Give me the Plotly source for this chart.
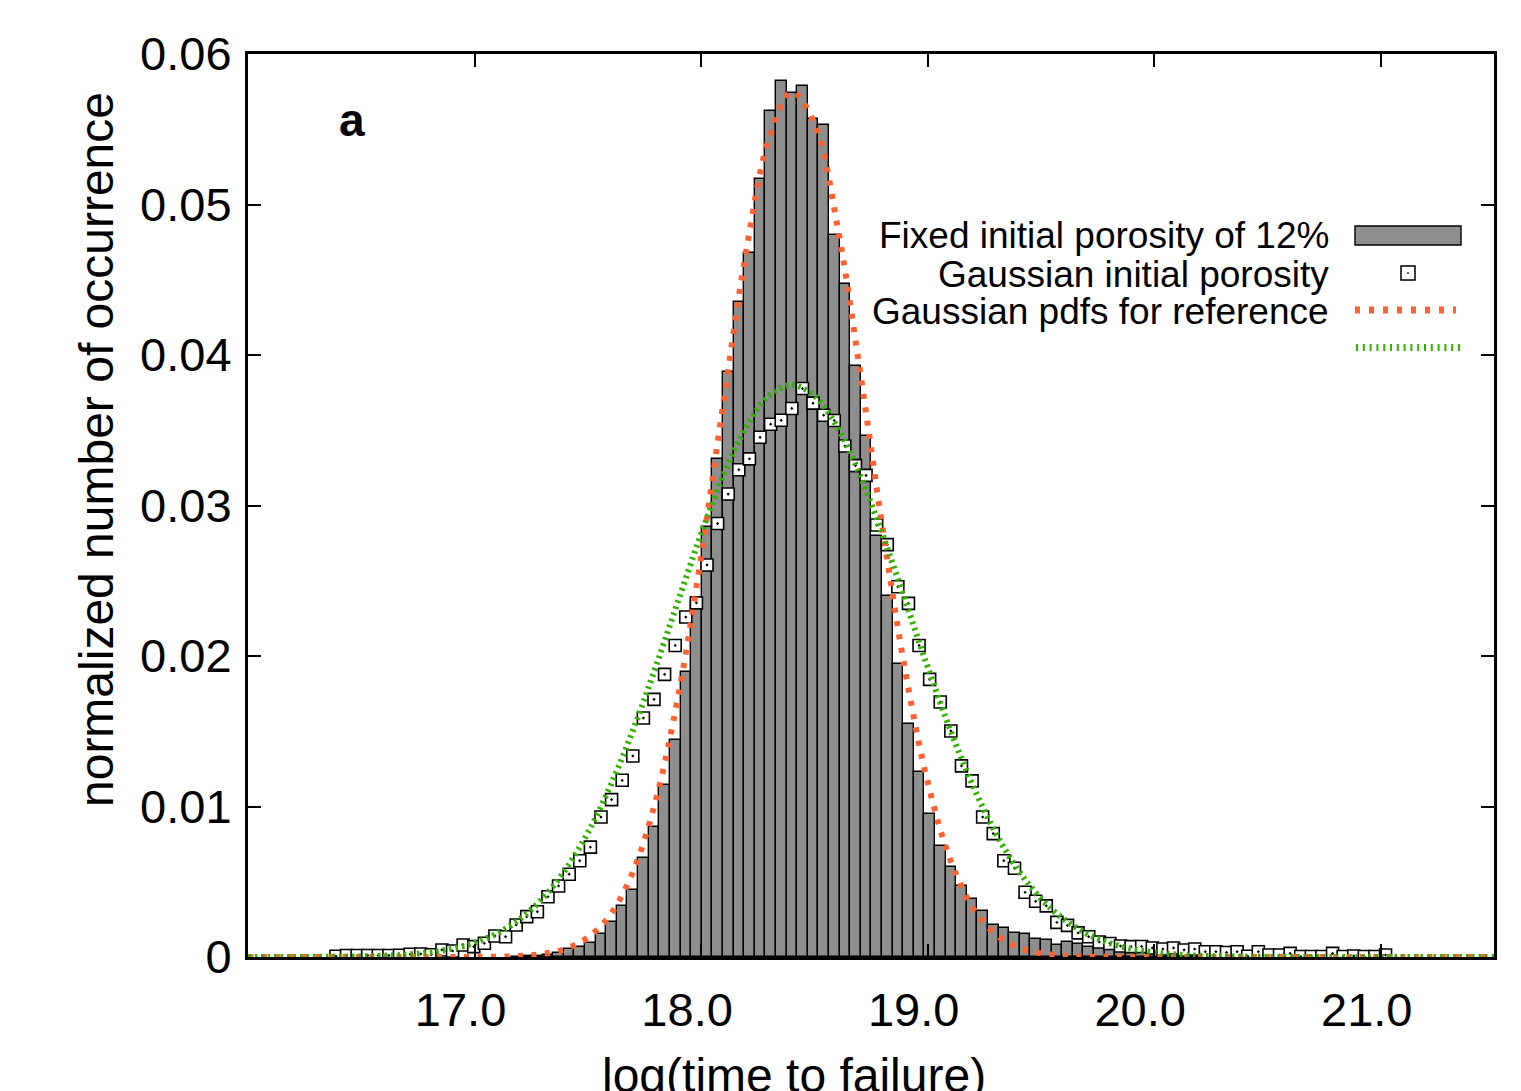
import plotly.graph_objects as go

# ---------------- data ----------------
bin_width = 0.0468
fixed_first_center = 17.1837      # centre of first grey bar
gauss_first_center = 16.3881      # centre of first open square

fixed_porosity = [
    0.00002, 0.00004, 0.00007, 0.00012, 0.00027, 0.0005, 0.00064, 0.0009,
    0.0015, 0.0023, 0.0034, 0.00448, 0.00655, 0.00865, 0.0114, 0.01442,
    0.01894, 0.0237, 0.0286, 0.0331, 0.0389, 0.0435, 0.0468, 0.0517,
    0.0562, 0.0582, 0.0574, 0.0579, 0.0557, 0.0553, 0.0480, 0.0447,
    0.0393, 0.0346, 0.0280, 0.0240, 0.0195, 0.0155, 0.0123, 0.0095,
    0.0074, 0.0060, 0.0047, 0.00385, 0.00305, 0.0021, 0.0019, 0.0016,
    0.0015, 0.0012, 0.00113, 0.0008, 0.00097, 0.00084, 0.00064, 0.00058,
    0.00047, 0.0004, 0.00035, 0.0003, 0.0003, 0.00025, 0.0002, 0.0002,
    0.00015, 0.00012, 0.0001, 0.0001, 0.00008, 0.00006, 0.00005, 0.00004,
    0.00003,
]

gaussian_porosity = [
    0.00005, 0.0001, 0.0001, 0.0001, 0.0001, 0.0001, 0.00012, 0.00018,
    0.0002, 0.00015, 0.00047, 0.0004, 0.0008, 0.00069, 0.00091, 0.0014,
    0.00135, 0.00213, 0.00268, 0.00301, 0.0040, 0.00472, 0.0055, 0.0064,
    0.0073, 0.0093, 0.01046, 0.01174, 0.01336, 0.01588, 0.01712, 0.01878,
    0.0207, 0.02259, 0.02353, 0.02605, 0.0288, 0.03076, 0.03238, 0.0331,
    0.03453, 0.0354, 0.03566, 0.03645, 0.03777, 0.0368, 0.036, 0.03565,
    0.03395, 0.03265, 0.032, 0.0287, 0.0274, 0.0246, 0.0235, 0.0207,
    0.01845, 0.01694, 0.01502, 0.0127, 0.0117, 0.0093, 0.0082, 0.0064,
    0.0059, 0.0043, 0.0037, 0.0034, 0.0023, 0.0021, 0.0016, 0.00135,
    0.001, 0.0009, 0.00073, 0.00069, 0.0007, 0.0006, 0.00053, 0.0006,
    0.00047, 0.00053, 0.00035, 0.00035, 0.0003, 0.00035, 0.00005, 0.00035,
    0.00013, 0.00013, 0.00024, 0.00003, 0.00003, 0.00003, 0.00024, 0.00003,
    0.00007, 0.00003, 0.00003, 0.00013,
]

curve_x0 = 16.0
curve_dx = 0.1
orange_ref = [
    0, 0, 0, 0, 0, 0, 0, 0, 0, 0,
    0.000006, 0.000022, 0.000069, 0.0002, 0.00053, 0.00129, 0.00283, 0.00568,
    0.01042, 0.01742, 0.02657, 0.03699, 0.04696, 0.05439, 0.05747, 0.0554,
    0.04872, 0.03908, 0.0286, 0.0191, 0.01163, 0.00646, 0.00327, 0.00151,
    0.00064, 0.000245, 0.000086, 0.000028, 0.000008,
    0, 0, 0, 0, 0, 0, 0, 0, 0, 0, 0, 0, 0, 0, 0, 0, 0,
]
green_ref = [
    0.000001, 0.000002, 0.000004, 0.000009, 0.00002, 0.000042, 0.000084,
    0.000163, 0.000305, 0.000546, 0.000944, 0.00157, 0.00252, 0.00388,
    0.00577, 0.00825, 0.01138, 0.01509, 0.01928, 0.02372, 0.0281, 0.03207,
    0.03524, 0.03729, 0.038, 0.03729, 0.03524, 0.03207, 0.0281, 0.02372,
    0.01928, 0.01509, 0.01138, 0.00825, 0.00577, 0.00388, 0.00252, 0.00157,
    0.000944, 0.000546, 0.000305, 0.000163, 0.000084, 0.000042, 0.00002,
    0.000009, 0.000004, 0.000002, 0, 0, 0, 0, 0, 0, 0, 0,
]

x_ticks = [17, 18, 19, 20, 21]
x_ticktext = ["17.0", "18.0", "19.0", "20.0", "21.0"]
y_ticks = [0, 0.01, 0.02, 0.03, 0.04, 0.05, 0.06]
y_ticktext = ["0", "0.01", "0.02", "0.03", "0.04", "0.05", "0.06"]

legend_labels = ["Fixed initial porosity of 12%", "Gaussian initial porosity",
                 "Gaussian pdfs for reference"]

# ---------------- styling ----------------
FONT = "Liberation Sans, Arial, Helvetica, sans-serif"
GREY = "#8E8E8E"
ORANGE = "#FF6130"
GREEN = "#33B000"
OFF = 8                       # default page body margin
W, H = 1521 - OFF, 1091 - OFF
L, R, T, B = 248 - OFF, 27, 54 - OFF, 134
PW, PH = W - L - R, H - T - B


def px(x):                    # page pixel -> paper fraction
    return (x - OFF - L) / PW


def py(y):
    return (OFF + T + PH - y) / PH


fig = go.Figure()
fig.add_trace(go.Bar(
    x0=fixed_first_center, dx=bin_width, y=fixed_porosity, width=bin_width,
    marker=dict(color=GREY, line=dict(color="black", width=1.4)),
    showlegend=False,
))
fig.add_trace(go.Scatter(
    x0=gauss_first_center, dx=bin_width, y=gaussian_porosity, mode="markers",
    marker=dict(symbol="square-dot", size=12, color="white",
                line=dict(color="black", width=1.6)),
    showlegend=False,
))
fig.add_trace(go.Scatter(
    x0=curve_x0, dx=curve_dx, y=orange_ref, mode="lines",
    line=dict(color=ORANGE, width=6, dash="5px,8.5px", shape="spline"),
    showlegend=False,
))
fig.add_trace(go.Scatter(
    x0=curve_x0, dx=curve_dx, y=green_ref, mode="lines",
    line=dict(color=GREEN, width=6, dash="2.5px,4px", shape="spline"),
    showlegend=False,
))

axis_common = dict(
    showline=True, linecolor="black", linewidth=3, mirror="ticks",
    ticks="inside", ticklen=13, tickwidth=2, tickcolor="black",
    showgrid=False, zeroline=False,
    tickfont=dict(family=FONT, size=47, color="black"),
)
fig.update_xaxes(range=[16.0, 21.5], tickvals=x_ticks, ticktext=x_ticktext,
                 ticklabelshift=-14, ticklabelstandoff=10, **axis_common)
fig.update_yaxes(range=[0, 0.06], tickvals=y_ticks, ticktext=y_ticktext,
                 ticklabelstandoff=4, **axis_common)

annotations = [
    dict(text="normalized number of occurrence", textangle=-90,
         x=px(96), y=py(450), xanchor="center", yanchor="middle",
         font=dict(family=FONT, size=48, color="black")),
    dict(text="log(time to failure)", x=px(794), y=py(1047),
         xanchor="center", yanchor="top",
         font=dict(family=FONT, size=48, color="black")),
    dict(text="<b>a</b>", x=px(352), y=py(120), xanchor="center", yanchor="middle",
         font=dict(family=FONT, size=46, color="black")),
]
for label, yc in zip(legend_labels, [235.5, 274, 311.5]):
    annotations.append(dict(text=label, x=px(1331), y=py(yc), xanchor="right",
                            yanchor="middle",
                            font=dict(family=FONT, size=37, color="black")))
for a in annotations:
    a.update(xref="paper", yref="paper", showarrow=False)

shapes = [
    dict(type="rect", x0=px(1355), x1=px(1461), y0=py(245), y1=py(226),
         fillcolor=GREY, line=dict(color="black", width=1.4)),
    dict(type="rect", x0=px(1401), x1=px(1415), y0=py(280), y1=py(266),
         fillcolor="white", line=dict(color="black", width=1.5)),
    dict(type="rect", x0=px(1407.5), x1=px(1408.5), y0=py(273.5), y1=py(272.5),
         fillcolor="black", line=dict(color="black", width=0.5)),
    dict(type="line", x0=px(1355), x1=px(1456), y0=py(310), y1=py(310),
         line=dict(color=ORANGE, width=7, dash="5px,9px")),
    dict(type="line", x0=px(1356), x1=px(1460), y0=py(347.5), y1=py(347.5),
         line=dict(color=GREEN, width=7, dash="2px,4.8px")),
]
for s in shapes:
    s.update(xref="paper", yref="paper")

fig.update_layout(
    width=W, height=H,
    margin=dict(l=L, r=R, t=T, b=B),
    paper_bgcolor="white", plot_bgcolor="white",
    bargap=0, barmode="overlay",
    annotations=annotations, shapes=shapes,
    font=dict(family=FONT, color="black"),
)

fig.write_html("out.html")
